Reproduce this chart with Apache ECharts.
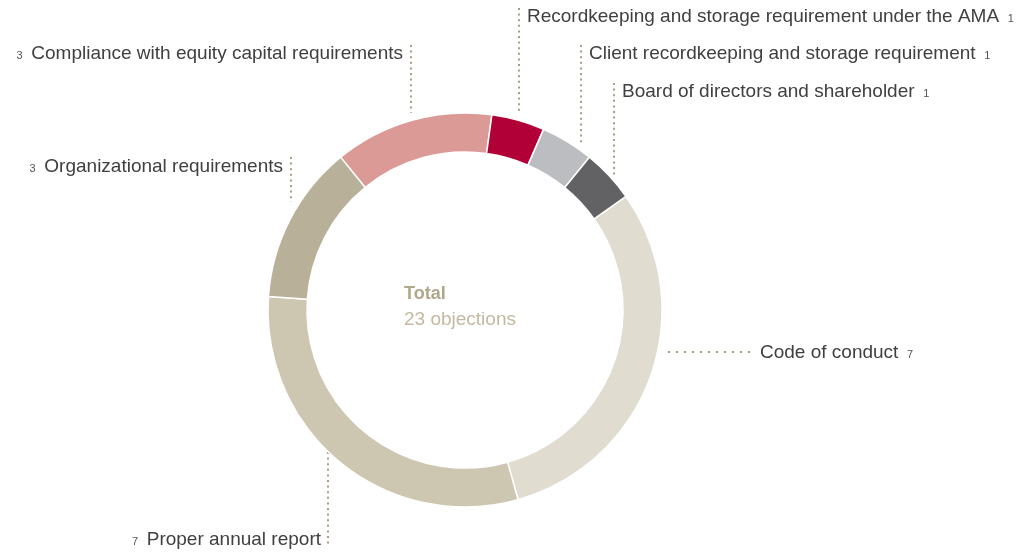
<!DOCTYPE html>
<html>
<head>
<meta charset="utf-8">
<script src="https://cdn.jsdelivr.net/npm/echarts@6/dist/echarts.min.js"></script>
<style>
  html, body { margin: 0; padding: 0; background: #fff; }
  #chart { width: 1026px; height: 553px; }
</style>
</head>
<body>
<div id="chart"></div>
<script>
// objections by topic, clockwise from the right side of the ring
const categories = [
  'Code of conduct',
  'Proper annual report',
  'Organizational requirements',
  'Compliance with equity capital requirements',
  'Recordkeeping and storage requirement under the AMA',
  'Client recordkeeping and storage requirement',
  'Board of directors and shareholder'
]
const objections = [7, 7, 3, 3, 1, 1, 1]
const colors = ['#e0dcd0', '#cdc6b1', '#b8b098', '#dc9a96', '#b10038', '#bcbdc0', '#626264']
const total = objections.reduce((a, b) => a + b, 0)

// where each label sits and how its dotted leader runs
const labelSpots = [
  { x: 760, y: 353, align: 'left', gap: 6, line: [[668, 352], [712, 352], [756, 352]] },
  { x: 321, y: 540, align: 'right', gap: 3.6, line: [[328, 452], [328, 500], [328, 547]] },
  { x: 283, y: 167, align: 'right', gap: 3.6, line: [[291, 157], [291, 180], [291, 202]] },
  { x: 403, y: 54, align: 'right', gap: 3.6, line: [[411, 45], [411, 80], [411, 113]] },
  { x: 527, y: 17, align: 'left', gap: 3.6, line: [[519, 8], [519, 60], [519, 113]] },
  { x: 589, y: 54, align: 'left', gap: 3.6, line: [[581, 45], [581, 95], [581, 143]] },
  { x: 622, y: 92, align: 'left', gap: 3.6, line: [[614, 83], [614, 130], [614, 175]] }
]

const chart = echarts.init(document.getElementById('chart'))
const font = '"Liberation Sans", Arial, Helvetica, sans-serif'

let option = {
  animation: false,
  title: {
    text: 'Total',
    subtext: total + ' objections',
    left: 404,
    top: 285,
    itemGap: 7,
    padding: 0,
    textStyle: { fontFamily: font, fontSize: 18, fontWeight: 'bold', color: '#b0a68a' },
    subtextStyle: { fontFamily: font, fontSize: 19, color: '#c3b9a1' }
  },
  series: [{
    type: 'pie',
    center: [465, 310],
    radius: [158, 197],
    startAngle: 35.2,
    clockwise: true,
    avoidLabelOverlap: false,
    itemStyle: { borderColor: '#fff', borderWidth: 1.5 },
    label: {
      show: true,
      position: 'outside',
      fontFamily: font,
      formatter: (p) => {
        const left = labelSpots[p.dataIndex].align === 'right'
        return left ? '{n|' + p.value + '}  {t|' + p.name + '}' : '{t|' + p.name + '}  {n|' + p.value + '}'
      },
      rich: {
        t: { fontFamily: font, fontSize: 19, color: '#404040' },
        n: { fontFamily: font, fontSize: 11, color: '#555', padding: [3, 2, 0, 2] }
      }
    },
    labelLine: {
      show: true,
      lineStyle: { color: '#a99d82', width: 2 }
    },
    labelLayout: (params) => {
      const s = labelSpots[params.dataIndex]
      return {
        x: s.x,
        y: s.y,
        align: s.align,
        verticalAlign: 'middle',
        labelLinePoints: s.line
      }
    },
    emphasis: { disabled: true },
    data: categories.map((name, i) => ({
      name,
      value: objections[i],
      itemStyle: { color: colors[i] },
      labelLine: { lineStyle: { type: [2, labelSpots[i].gap] } }
    }))
  }]
}
chart.setOption(option)
</script>
</body>
</html>
